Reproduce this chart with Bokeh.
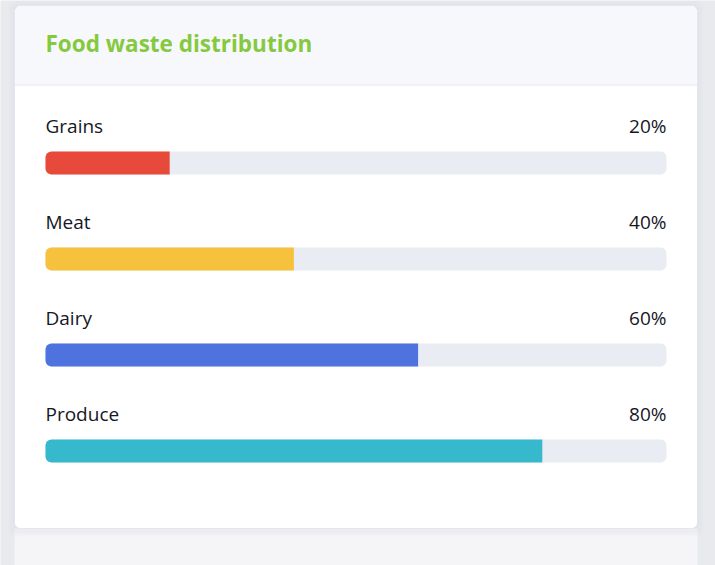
from bokeh.plotting import figure
from bokeh.models import Range1d, ColumnDataSource
from bokeh.core.properties import value
from bokeh.embed import file_html
from bokeh.resources import INLINE

title = "Food waste distribution"
categories = ["Grains", "Meat", "Dairy", "Produce"]
percents = [20, 40, 60, 80]
colors = ["#e74a3b", "#f6c23e", "#4e73df", "#36b9cc"]

W, H = 715, 565
ORG = 0
# page pixel -> percent units (0% at px 45, 100% at px 666)
PX0, PXW = 45.0, 621.0
def xd(px):
    return (px - PX0) / PXW * 100.0

FONT = value("Open Sans")

p = figure(width=W, height=H, output_backend="svg", toolbar_location=None,
           x_range=Range1d(xd(ORG), xd(ORG + W)), y_range=Range1d(ORG + H, ORG),
           min_border=0, outline_line_color=None,
           background_fill_color="#e9eaee", border_fill_color="#e9eaee")
p.axis.visible = False
p.grid.visible = False

# area below card (next card shadow)
p.quad(left=[xd(14)], right=[xd(697)], top=[528], bottom=[575],
       fill_color="#f5f5f7", line_color=None)
# shadow of card
for i, a in enumerate([0.05, 0.05, 0.06]):
    d = 6 - 2 * i
    p.quad(left=[xd(14 - d)], right=[xd(697 + d)], top=[5 - d], bottom=[528 + d + 2],
           fill_color="#c8cad6", fill_alpha=a, line_color=None, border_radius=8)
# card
p.quad(left=[xd(14)], right=[xd(697)], top=[5], bottom=[528],
       fill_color="#ffffff", line_color="#e3e6f0", line_width=1, border_radius=6)
# header
p.quad(left=[xd(14.5)], right=[xd(696.5)], top=[5.5], bottom=[84],
       fill_color="#f7f8fc", line_color=None, border_radius=(6, 6, 0, 0))
p.segment(x0=[xd(14)], x1=[xd(697)], y0=[84.5], y1=[84.5],
          line_color="#e3e6f0", line_width=1)
p.text(x=[xd(45)], y=[43], text=[title], text_font=FONT,
       text_font_style="bold", text_font_size="22.5px", text_color="#85c93f",
       text_baseline="middle", text_align="left")

n = len(categories)
bar_c = [162.5 + 96 * i for i in range(n)]
lab_y = [125 + 96 * i for i in range(n)]
src = ColumnDataSource(dict(cat=categories, pct=percents, col=colors,
                            yc=bar_c, ly=lab_y,
                            pl=[f"{v}%" for v in percents],
                            zero=[0] * n, full=[100] * n))

p.hbar(y="yc", left="zero", right="full", height=23, source=src,
       fill_color="#eaecf4", line_color=None, border_radius=6)
p.hbar(y="yc", left="zero", right="pct", height=23, source=src,
       fill_color="col", line_color=None, border_radius=(6, 0, 0, 6))

p.text(x="zero", y="ly", text="cat", source=src, text_font=FONT,
       text_font_size="19px", text_color="#15171f", text_baseline="middle",
       text_align="left")
p.text(x="full", y="ly", text="pl", source=src, text_font=FONT,
       text_font_size="19px", text_color="#15171f", text_baseline="middle",
       text_align="right")

open("out.html", "w").write(file_html(p, INLINE))
